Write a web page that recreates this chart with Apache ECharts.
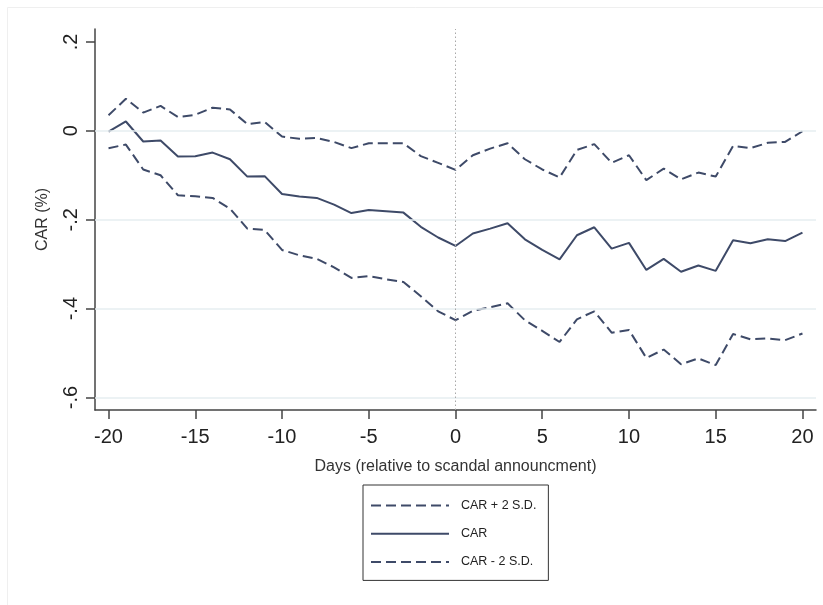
<!DOCTYPE html>
<html>
<head>
<meta charset="utf-8">
<script src="https://cdn.jsdelivr.net/npm/echarts@6/dist/echarts.min.js"></script>
<style>
  html, body { margin: 0; padding: 0; background: #ffffff; }
  #chart { width: 823px; height: 605px; }
</style>
</head>
<body>
<div id="chart"></div>
<script>
// Event window, days relative to the announcement
const days = [-20,-19,-18,-17,-16,-15,-14,-13,-12,-11,-10,-9,-8,-7,-6,-5,-4,-3,-2,-1,0,
              1,2,3,4,5,6,7,8,9,10,11,12,13,14,15,16,17,18,19,20];

// Cumulative abnormal return and its +/- 2 S.D. band
const carUpper = [0.035,0.072,0.041,0.056,0.031,0.036,0.052,0.048,0.015,0.020,-0.013,-0.018,-0.016,-0.025,-0.039,-0.028,-0.028,-0.028,-0.057,-0.072,-0.088,
                  -0.055,-0.040,-0.028,-0.064,-0.087,-0.105,-0.043,-0.030,-0.072,-0.055,-0.111,-0.085,-0.109,-0.094,-0.103,-0.034,-0.039,-0.027,-0.025,-0.001];
const car = [-0.002,0.021,-0.024,-0.022,-0.058,-0.057,-0.049,-0.064,-0.103,-0.102,-0.142,-0.148,-0.151,-0.166,-0.185,-0.178,-0.181,-0.184,-0.216,-0.240,-0.259,
             -0.231,-0.220,-0.208,-0.244,-0.268,-0.289,-0.235,-0.217,-0.265,-0.252,-0.313,-0.288,-0.317,-0.303,-0.315,-0.246,-0.253,-0.244,-0.248,-0.229];
const carLower = [-0.039,-0.031,-0.087,-0.100,-0.145,-0.147,-0.151,-0.175,-0.220,-0.223,-0.268,-0.280,-0.288,-0.307,-0.331,-0.327,-0.334,-0.340,-0.372,-0.406,-0.426,
                  -0.405,-0.397,-0.388,-0.426,-0.450,-0.475,-0.424,-0.406,-0.454,-0.448,-0.511,-0.492,-0.525,-0.512,-0.527,-0.457,-0.469,-0.467,-0.471,-0.456];

// Tick values
const xTicks = [-20,-15,-10,-5,0,5,10,15,20];
const yTicks = [0.2,0,-0.2,-0.4,-0.6];
const yGrid = [0,-0.2,-0.4,-0.6];

const lineColor = '#3e4a68';
const pairs = arr => days.map((d, i) => [d, arr[i]]);
const fmtY = v => {
  if (Math.abs(v) < 1e-9) return '0';
  const s = String(Math.round(v * 10) / 10);
  return s.replace('0.', '.');
};

const chart = echarts.init(document.getElementById('chart'), null, { renderer: 'canvas' });

chart.setOption({
  backgroundColor: '#ffffff',
  animation: false,
  textStyle: { fontFamily: 'Liberation Sans, Arial, sans-serif' },
  graphic: [{
    type: 'rect',
    shape: { x: 7.5, y: 7.5, width: 840, height: 640 },
    style: { fill: 'none', stroke: '#efefef', lineWidth: 1 },
    silent: true
  }],
  grid: { left: 95, right: 7, top: 29, bottom: 195 },
  xAxis: {
    type: 'value',
    min: -20.78,
    max: 20.78,
    name: 'Days (relative to scandal announcment)',
    nameLocation: 'middle',
    nameGap: 49,
    nameTextStyle: { fontSize: 16, color: '#333333' },
    axisLine: { show: true, onZero: false, lineStyle: { color: '#444444', width: 1.5 } },
    axisTick: { show: true, length: 9, customValues: xTicks, lineStyle: { color: '#444444', width: 1.5 } },
    axisLabel: { customValues: xTicks, fontSize: 20, color: '#222222', margin: 17 },
    splitLine: { show: false }
  },
  yAxis: {
    type: 'value',
    min: -0.628,
    max: 0.229,
    name: 'CAR (%)',
    nameLocation: 'middle',
    nameRotate: 90,
    nameGap: 44,
    nameTextStyle: { fontSize: 16, color: '#333333' },
    axisLine: { show: true, onZero: false, lineStyle: { color: '#444444', width: 1.5 } },
    axisTick: { show: true, length: 9, customValues: yTicks, lineStyle: { color: '#444444', width: 1.5 } },
    axisLabel: { customValues: yTicks, fontSize: 20, color: '#222222', rotate: 90, margin: 14, formatter: fmtY },
    splitLine: { show: false }
  },
  legend: {
    orient: 'vertical',
    left: 363,
    top: 485,
    padding: [14, 12, 12, 7],
    itemWidth: 78,
    itemHeight: 14,
    itemGap: 15.2,
    borderColor: '#333333',
    borderWidth: 1,
    backgroundColor: '#ffffff',
    itemStyle: { opacity: 0, borderWidth: 0 },
    textStyle: { fontSize: 12.5, color: '#222222', padding: [0, 0, 0, 7] },
    data: ['CAR + 2 S.D.', 'CAR', 'CAR - 2 S.D.']
  },
  series: [
    {
      name: 'reference lines',
      type: 'line',
      data: [],
      silent: true,
      markLine: {
        symbol: 'none',
        silent: true,
        label: { show: false },
        data: yGrid.map(v => ({ yAxis: v, lineStyle: { color: '#e6eef1', width: 1.5, type: 'solid' } }))
          .concat([{ xAxis: 0, lineStyle: { color: '#a8a8a8', width: 1, type: [1.5, 2.5] } }])
      },
      z: 1
    },
    {
      name: 'CAR + 2 S.D.',
      type: 'line',
      data: pairs(carUpper),
      symbol: 'none',
      lineStyle: { color: lineColor, width: 2, type: [10, 5] },
      itemStyle: { color: lineColor },
      z: 3
    },
    {
      name: 'CAR',
      type: 'line',
      data: pairs(car),
      symbol: 'none',
      lineStyle: { color: lineColor, width: 2, type: 'solid' },
      itemStyle: { color: lineColor },
      z: 3
    },
    {
      name: 'CAR - 2 S.D.',
      type: 'line',
      data: pairs(carLower),
      symbol: 'none',
      lineStyle: { color: lineColor, width: 2, type: [10, 5] },
      itemStyle: { color: lineColor },
      z: 3
    }
  ]
});
</script>
</body>
</html>
